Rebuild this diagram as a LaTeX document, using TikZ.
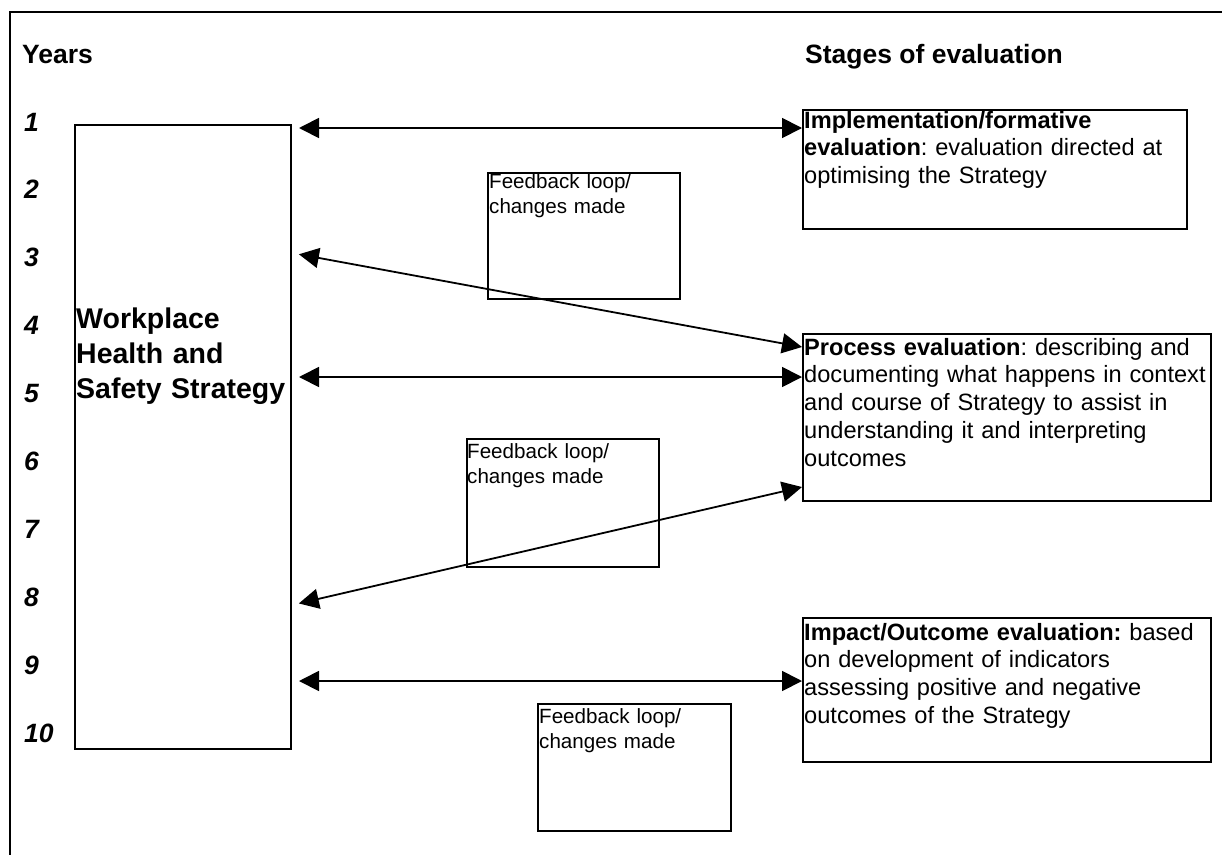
\documentclass[tikz,border=0pt]{standalone}
\usepackage{fontspec}
\setmainfont{Liberation Sans}
\usetikzlibrary{arrows.meta,calc}
\frenchspacing
\tikzset{
  frameline/.style={line width=2pt},
  boxnode/.style={draw, line width=2pt, rectangle, inner sep=0pt, anchor=north west},
  twoway/.style={line width=1.8pt, {Triangle[length=20pt,width=20pt]}-{Triangle[length=20pt,width=20pt]}},
  headtxt/.style={font=\fontsize{26.5}{30}\selectfont\bfseries, inner sep=0pt, anchor=base west},
  yeartxt/.style={font=\fontsize{26.5}{30}\selectfont\bfseries\itshape, inner sep=0pt, anchor=base west},
  bigtxt/.style={font=\fontsize{28.5}{35}\selectfont\bfseries, inner sep=0pt, anchor=base west, align=left, text width=214pt},
  evtxt/.style={font=\fontsize{23.6}{27.8}\selectfont\frenchspacing, inner sep=0pt, anchor=base west, align=left, text width=410pt},
  fbtxt/.style={font=\fontsize{20.6}{25}\selectfont, inner sep=0pt, anchor=base west, align=left, text width=190pt},
}
\begin{document}
\begin{tikzpicture}[x=1pt,y=-1pt]
\useasboundingbox (0,0) rectangle (1222,854);
% frame
\draw[frameline] (10,870) -- (10,12) -- (1240,12);
% headings
\node[headtxt] (years) at (22,63) {Years};
\node[headtxt] (stages) at (805,63) {Stages of evaluation};
% year numbers
\foreach \i in {1,...,10}{
  \node[yeartxt] (yr\i) at (24,{131+(\i-1)*67.9}) {\i};
}
% main strategy box
\node[boxnode, minimum width=216pt, minimum height=624pt] (big) at (74,124) {};
\node[bigtxt] (bigt) at (76,328) {Workplace\\Health and\\Safety Strategy};
% evaluation boxes
\node[boxnode, minimum width=384pt, minimum height=119pt] (ev1) at (802,109) {};
\node[evtxt] (ev1t) at (804,128) {\textbf{Implementation/formative}\\\textbf{evaluation}: evaluation directed at\\optimising the Strategy};
\node[boxnode, minimum width=408pt, minimum height=167pt] (ev2) at (802,333) {};
\node[evtxt] (ev2t) at (804,355) {\textbf{Process evaluation}: describing and\\documenting what happens in context\\and course of Strategy to assist in\\understanding it and interpreting\\outcomes};
\node[boxnode, minimum width=408pt, minimum height=144pt] (ev3) at (802,617) {};
\node[evtxt] (ev3t) at (804,640) {\textbf{Impact/Outcome evaluation:} based\\on development of indicators\\assessing positive and negative\\outcomes of the Strategy};
% feedback boxes
\node[boxnode, minimum width=192pt, minimum height=126pt] (fb1) at (487,172) {};
\node[fbtxt] (fb1t) at (489,188) {Feedback loop/\\changes made};
\node[boxnode, minimum width=192pt, minimum height=128pt] (fb2) at (466,438) {};
\node[fbtxt] (fb2t) at (467,458) {Feedback loop/\\changes made};
\node[boxnode, minimum width=193pt, minimum height=127pt] (fb3) at (537,703) {};
\node[fbtxt] (fb3t) at (539,723) {Feedback loop/\\changes made};
% arrow levels
\coordinate (a1) at (0,128);
\coordinate (a2l) at (0,253);
\coordinate (a2r) at (0,347);
\coordinate (a3) at (0,377);
\coordinate (a4l) at (0,605);
\coordinate (a4r) at (0,487);
\coordinate (a5) at (0,681);
% arrows
\draw[twoway, shorten <=7pt] (big.east |- a1) -- (ev1.west |- a1);
\draw[twoway, shorten <=7pt] (big.east |- a2l) -- (ev2.west |- a2r);
\draw[twoway, shorten <=7pt] (big.east |- a3) -- (ev2.west |- a3);
\draw[twoway, shorten <=7pt] (big.east |- a4l) -- (ev2.west |- a4r);
\draw[twoway, shorten <=7pt] (big.east |- a5) -- (ev3.west |- a5);
\end{tikzpicture}
\end{document}
